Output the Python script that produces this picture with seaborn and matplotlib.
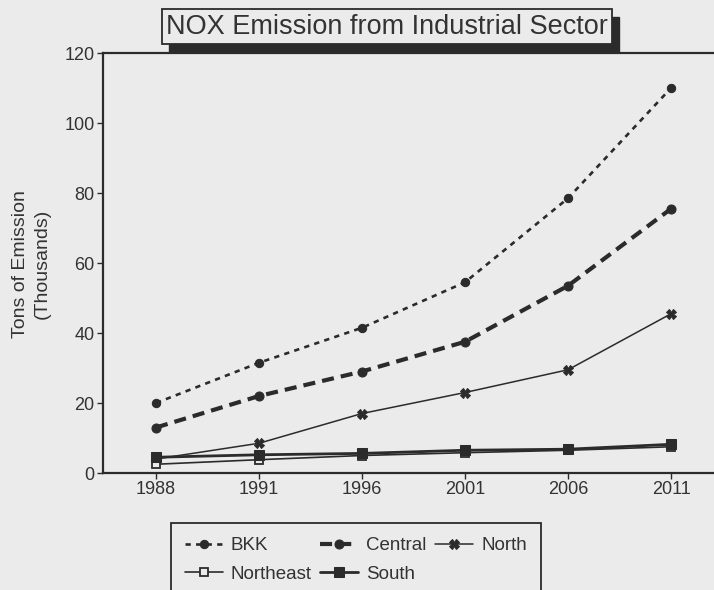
import matplotlib
matplotlib.use("Agg")
import matplotlib.pyplot as plt
import matplotlib.patches as mpatches
import seaborn as sns
import pandas as pd

years = ["1988", "1991", "1996", "2001", "2006", "2011"]
bkk = [20, 31.5, 41.5, 54.5, 78.5, 110]
central = [13, 22, 29, 37.5, 53.5, 75.5]
north = [4, 8.5, 17, 23, 29.5, 45.5]
northeast = [2.5, 3.8, 5.0, 5.8, 6.5, 7.5]
south = [4.5, 5.2, 5.6, 6.5, 6.8, 8.2]

series_names = ["BKK", "Central", "North", "Northeast", "South"]
series_vals = [bkk, central, north, northeast, south]

BG = "#ebebeb"
INK = "#2b2b2b"

sns.set_theme(style="white")
plt.rcParams["font.family"] = ["Liberation Sans", "DejaVu Sans"]

fig = plt.figure(figsize=(7.14, 5.90), dpi=100, facecolor=BG)
ax = fig.add_axes([103 / 714, 1 - 473 / 590, 1 - 103 / 714, (473 - 53) / 590])
ax.set_facecolor(BG)

pos = list(range(len(years)))

styles = {
    "BKK": dict(linestyle=(0, (2.0, 2.0)), linewidth=1.9, marker="o", markersize=6,
                markerfacecolor=INK, markeredgecolor=INK),
    "Central": dict(linestyle=(0, (2.9, 1.7)), linewidth=3.0, marker="o", markersize=6.5,
                    markerfacecolor=INK, markeredgecolor=INK),
    "North": dict(linestyle="-", linewidth=1.1, marker="X", markersize=7,
                  markerfacecolor=INK, markeredgecolor=INK),
    "Northeast": dict(linestyle="-", linewidth=1.2, marker="s", markersize=6,
                      markerfacecolor=BG, markeredgecolor=INK, markeredgewidth=1.3),
    "South": dict(linestyle="-", linewidth=2.0, marker="s", markersize=6.5,
                  markerfacecolor=INK, markeredgecolor=INK),
}

for name, vals in zip(series_names, series_vals):
    df = pd.DataFrame({"pos": pos, "val": vals})
    sns.lineplot(data=df, x="pos", y="val", ax=ax, color=INK, label=name,
                 **styles[name])

ax.set_xlim(-0.515, 5.417)
ax.set_ylim(0, 120)
ax.set_xticks(pos)
ax.set_xticklabels(years)
ax.set_yticks([0, 20, 40, 60, 80, 100, 120])
ax.set_xlabel("")
ax.set_ylabel("")

for side in ["left", "bottom", "top"]:
    ax.spines[side].set_visible(True)
    ax.spines[side].set_color(INK)
    ax.spines[side].set_linewidth(1.6)
ax.spines["right"].set_visible(False)

ax.tick_params(axis="both", which="both", labelsize=13, colors=INK, direction="out",
               length=4, width=1.0, pad=2, left=True, bottom=True)
for lab in ax.get_xticklabels() + ax.get_yticklabels():
    lab.set_color("#333333")

fig.text(0.044, 0.553, "Tons of Emission\n(Thousands)", rotation=90, ha="center",
         va="center", fontsize=14, color="#333333", linespacing=1.3)

# Title with shadowed box
title = "NOX Emission from Industrial Sector"
ttl = fig.text(0.542, 0.955, title, ha="center", va="center", fontsize=19.5,
               color="#333333",
               bbox=dict(boxstyle="square,pad=0.15", facecolor=BG, edgecolor=INK,
                         linewidth=1.3),
               zorder=6)

handles, labels = ax.get_legend_handles_labels()
hmap = dict(zip(labels, handles))
order = ["BKK", "Northeast", "Central", "South", "North"]
ax.legend([hmap[k] for k in order], order, loc="upper left",
          bbox_to_anchor=(171 / 714, 1 - 523 / 590), bbox_transform=fig.transFigure,
          borderaxespad=0,
          ncol=3, fontsize=13.5, frameon=True, fancybox=False, edgecolor=INK,
          facecolor=BG, framealpha=1, handlelength=2.0, handletextpad=0.45,
          columnspacing=0.45, labelspacing=0.6, borderpad=0.75, labelcolor="#333333")
ax.get_legend().get_frame().set_linewidth(1.3)

# shadow rectangle behind title box
fig.canvas.draw()
bb = ttl.get_bbox_patch().get_window_extent()
W, H = fig.bbox.width, fig.bbox.height
dx, dy = 7, -8
shadow = mpatches.Rectangle(((bb.x0 + dx) / W, (bb.y0 + dy) / H), bb.width / W, bb.height / H,
                            transform=fig.transFigure, facecolor=INK, edgecolor=INK,
                            zorder=5)
fig.patches.append(shadow)

fig.savefig("out.png", dpi=100, facecolor=BG)
